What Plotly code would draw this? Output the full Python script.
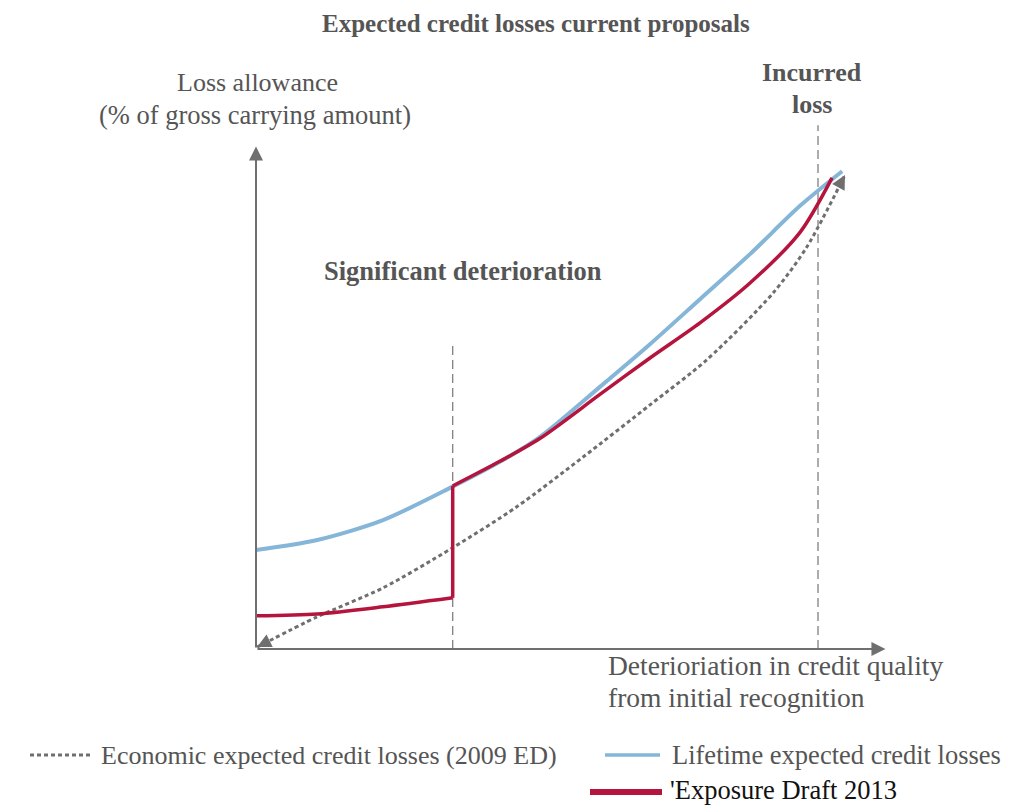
import plotly.graph_objects as go

# ---------------- data (conceptual units) ----------------
lifetime_x = [0, 10.9, 22.6, 34.9, 43.4, 50.5, 61.2, 70.1, 79.0, 87.9, 96.8, 104.3]
lifetime_y = [20.9, 23.0, 27.2, 34.2, 39.5, 44.7, 55.3, 64.3, 73.8, 83.3, 93.5, 100.8]

ed2013_x = [0, 10.9, 22.6, 35.0, 35.0, 43.4, 50.5, 61.2, 70.1, 79.0, 87.9, 96.8, 102.5]
ed2013_y = [7.0, 7.4, 8.9, 10.8, 34.4, 39.6, 44.4, 53.7, 61.4, 68.8, 77.2, 87.9, 99.4]

economic_x = [0.2, 10.9, 22.6, 34.9, 46.4, 58.2, 70.1, 80.2, 92.0, 98.0, 104.8]
economic_y = [0.4, 6.8, 12.9, 21.3, 30.0, 40.5, 51.5, 61.0, 75.1, 84.8, 100.0]

significant_x = 35.0
significant_top = 64.6
incurred_x = 100.0
incurred_top = 110.5
x_axis_end = 112.0
y_axis_end = 106.0

title = "Expected credit losses current proposals"
y_label = ["Loss allowance", "(% of gross carrying amount)"]
x_label = ["Deterioriation in credit quality", "from initial recognition"]
incurred_label = ["Incurred", "loss"]
significant_label = "Significant deterioration"
legend_names = ["Economic expected credit losses (2009 ED)",
                "Lifetime expected credit losses",
                "'Exposure Draft 2013"]

# ---------------- styles ----------------
W, H = 1017, 805
OFF = 8                      # page body margin
SX, SY = 5.62, 4.74          # px per data unit
OX, OY = 256 - OFF, 649 - OFF  # figure-pixel position of origin
BLUE = "#85b6d8"
RED = "#b5143d"
GREY = "#6f6f6f"
DASHGREY = "#808080"
TXT = "#555555"
SERIF = "Liberation Serif"

x0 = -OX / SX
x1 = x0 + W / SX
y1 = OY / SY
y0 = y1 - H / SY

fig = go.Figure()

# economic (dotted)
fig.add_trace(go.Scatter(x=economic_x, y=economic_y, mode="lines",
                         line=dict(color=GREY, width=3, dash="4px,3px", shape="spline", smoothing=0.8),
                         hoverinfo="skip", showlegend=False))
# lifetime
fig.add_trace(go.Scatter(x=lifetime_x, y=lifetime_y, mode="lines",
                         line=dict(color=BLUE, width=4, shape="spline", smoothing=0.8),
                         hoverinfo="skip", showlegend=False))
# exposure draft 2013: split at jump
j = next(i for i in range(1, len(ed2013_x)) if ed2013_x[i] == ed2013_x[i - 1])
segs = [(ed2013_x[:j], ed2013_y[:j], "spline"),
        (ed2013_x[j - 1:j + 1], ed2013_y[j - 1:j + 1], "linear"),
        (ed2013_x[j:], ed2013_y[j:], "spline")]
for sx, sy, shp in segs:
    fig.add_trace(go.Scatter(x=sx, y=sy, mode="lines",
                             line=dict(color=RED, width=3.5, shape=shp, smoothing=0.8),
                             hoverinfo="skip", showlegend=False))

# dashed vertical reference lines
fig.add_shape(type="line", x0=significant_x, x1=significant_x, y0=0, y1=significant_top,
              line=dict(color=DASHGREY, width=1.3, dash="9px,5px"), layer="below")
fig.add_shape(type="line", x0=incurred_x, x1=incurred_x, y0=0, y1=incurred_top,
              line=dict(color=DASHGREY, width=1.3, dash="9px,5px"), layer="below")

ann = []
# axes with arrows
for hx, hy in [(x_axis_end, 0), (0, y_axis_end)]:
    ann.append(dict(x=hx, y=hy, ax=0, ay=0, xref="x", yref="y", axref="x", ayref="y",
                    text="", showarrow=True, arrowhead=2, arrowsize=1.4, arrowwidth=2,
                    arrowcolor=GREY))
# arrowheads of the dotted curve
for hi, ti in [(len(economic_x) - 1, len(economic_x) - 2), (0, 1)]:
    hx, hy = economic_x[hi], economic_y[hi]
    tx, ty = economic_x[ti], economic_y[ti]
    dx, dy = (hx - tx) * SX, (hy - ty) * SY
    n = (dx * dx + dy * dy) ** 0.5
    ann.append(dict(x=hx, y=hy, ax=hx - dx / n * 10 / SX, ay=hy - dy / n * 10 / SY,
                    xref="x", yref="y", axref="x", ayref="y",
                    text="", showarrow=True, arrowhead=2, arrowsize=1.4, arrowwidth=2,
                    arrowcolor=GREY))


def txt(s, px, py, size, bold=False, anchor="center", color=TXT, family=SERIF, yanchor="middle"):
    ann.append(dict(text=("<b>%s</b>" % s) if bold else s, x=(px - OFF) / W,
                    y=1 - (py - OFF) / H,
                    xref="paper", yref="paper", showarrow=False, xanchor=anchor,
                    yanchor=yanchor, font=dict(family=family, size=size, color=color)))


txt(title, 536, OFF, 25, bold=True, yanchor="top")
txt(y_label[0], 257, 82, 26)
txt(y_label[1], 255, 115, 26.5)
txt(incurred_label[0], 812, 72, 26, bold=True)
txt(incurred_label[1], 812, 104, 26, bold=True)
txt(significant_label, 463, 271, 26.5, bold=True)
txt(x_label[0], 606, 665, 27.5, anchor="left")
txt(x_label[1], 606, 697, 27.5, anchor="left")
txt(legend_names[0], 99, 755, 26, anchor="left")
txt(legend_names[1], 670, 755, 26.5, anchor="left")
txt(legend_names[2], 668, 790, 26.5, anchor="left", color="#111111")


def pline(xa, xb, py, **line):
    fig.add_shape(type="line", xref="paper", yref="paper", x0=(xa - OFF) / W, x1=(xb - OFF) / W,
                  y0=1 - (py - OFF) / H, y1=1 - (py - OFF) / H, line=line)


# legend samples
pline(30, 92, 755, color=GREY, width=3, dash="4px,3px")
pline(605, 660, 755, color=BLUE, width=3.5)
pline(590, 662, 792, color=RED, width=6)

fig.update_layout(width=W, height=H, margin=dict(l=0, r=0, t=0, b=0),
                  paper_bgcolor="white", plot_bgcolor="white", annotations=ann,
                  xaxis=dict(range=[x0, x1], visible=False, fixedrange=True),
                  yaxis=dict(range=[y0, y1], visible=False, fixedrange=True),
                  showlegend=False)
fig.write_html("out.html")
